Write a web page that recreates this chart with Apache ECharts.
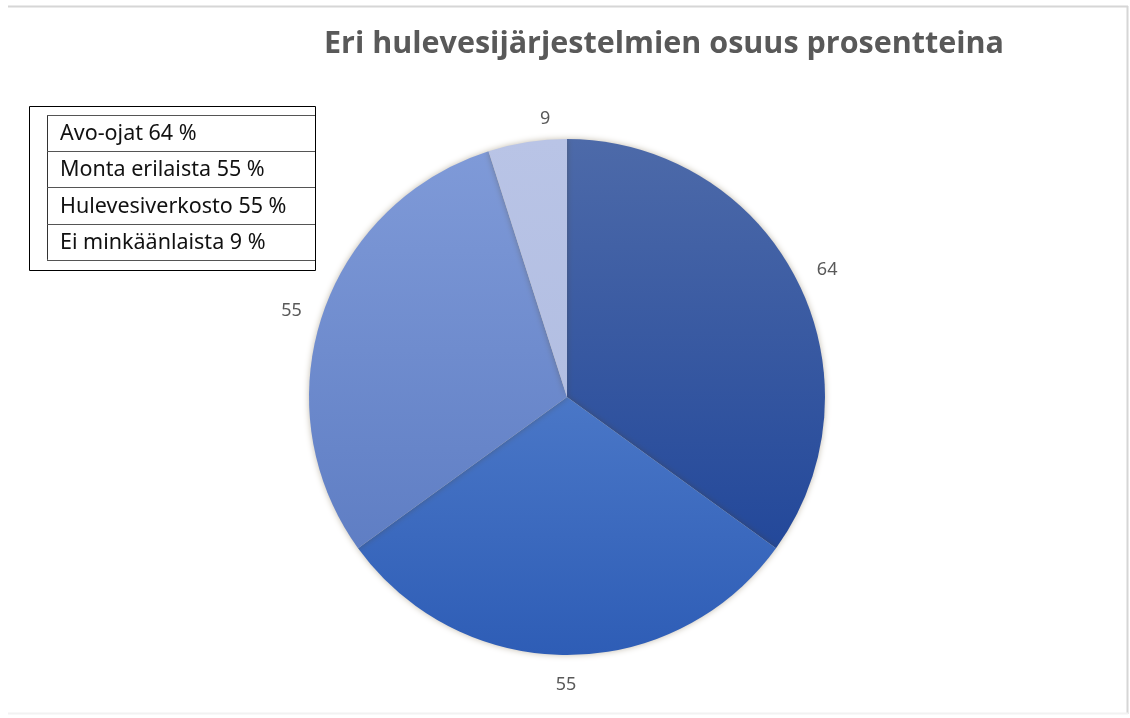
<!DOCTYPE html>
<html>
<head>
<meta charset="utf-8">
<script src="https://cdn.jsdelivr.net/npm/echarts@6/dist/echarts.min.js"></script>
<style>
html,body{margin:0;padding:0;background:#fff;}
#chart{width:1130px;height:718px;}
</style>
</head>
<body>
<div id="chart"></div>
<script>
const titleText = 'Eri hulevesijärjestelmien osuus prosentteina';
const categories = ['Avo-ojat', 'Monta erilaista', 'Hulevesiverkosto', 'Ei minkäänlaista'];
const values = [64, 55, 55, 9];
const legendValues = [64, 55, 55, 9];

const sliceColors = [
  ['#4d6aa9', '#23489a'],
  ['#4a77c7', '#2e5db6'],
  ['#7f9ad8', '#5f7ec4'],
  ['#b9c4e6', '#b2bee2']
];
const labelOffsets = [[1, 5], [-1, -3], [1, 5], [23, 9]];

const chart = echarts.init(document.getElementById('chart'), null, {renderer: 'canvas'});

const pieData = categories.map((c, i) => ({
  name: c,
  value: values[i],
  itemStyle: {
    color: new echarts.graphic.LinearGradient(0, 0, 0, 1, [
      {offset: 0, color: sliceColors[i][0]},
      {offset: 1, color: sliceColors[i][1]}
    ])
  }
}));

const labelData = categories.map((c, i) => ({
  name: c,
  value: values[i],
  label: {offset: labelOffsets[i]}
}));

// legend table
const legendX0 = 29, legendY0 = 106, legendX1 = 315, legendY1 = 270;
const innerX = 47, rowTop = 115, rowH = 36.2;
const legendGraphics = [
  {type: 'rect', shape: {x: legendX0 + 0.5, y: legendY0 + 0.5, width: legendX1 - legendX0, height: legendY1 - legendY0},
   style: {fill: '#fff', stroke: '#000', lineWidth: 1}, silent: true},
  {type: 'line', shape: {x1: innerX + 0.5, y1: rowTop, x2: innerX + 0.5, y2: rowTop + rowH * categories.length},
   style: {stroke: '#333', lineWidth: 1}, silent: true}
];
for (let i = 0; i <= categories.length; i++) {
  legendGraphics.push({type: 'line',
    shape: {x1: innerX, y1: Math.round(rowTop + rowH * i) + 0.5, x2: legendX1, y2: Math.round(rowTop + rowH * i) + 0.5},
    style: {stroke: '#555', lineWidth: 1.2}, silent: true});
}
categories.forEach((c, i) => {
  legendGraphics.push({type: 'text', x: 60, y: rowTop + rowH * i + rowH / 2 + 1,
    style: {text: c + ' ' + legendValues[i] + ' %', fill: '#111', font: '21.5px "Noto Sans"',
      textAlign: 'left', textVerticalAlign: 'middle'}, silent: true});
});

const option = {
  backgroundColor: '#fff',
  animation: false,
  title: {
    text: titleText,
    left: 659, top: 24, textAlign: 'center',
    textStyle: {fontFamily: '"Open Sans"', fontWeight: 'bold', fontSize: 30.5, color: '#595959'}
  },
  graphic: [
    {type: 'line', shape: {x1: 8, y1: 6.5, x2: 1128, y2: 6.5}, style: {stroke: '#d6d6d6', lineWidth: 2}, silent: true},
    {type: 'line', shape: {x1: 1127.5, y1: 6, x2: 1127.5, y2: 714}, style: {stroke: '#d6d6d6', lineWidth: 2}, silent: true},
    {type: 'line', shape: {x1: 8, y1: 713.5, x2: 1128, y2: 713.5}, style: {stroke: '#f2f2f2', lineWidth: 2}, silent: true}
  ].concat(legendGraphics),
  series: [
    {
      type: 'pie',
      center: [567, 397],
      radius: [0, 258],
      startAngle: 90,
      clockwise: true,
      silent: true,
      label: {show: false},
      labelLine: {show: false},
      itemStyle: {borderWidth: 0, shadowBlur: 6, shadowColor: 'rgba(80,60,20,0.35)'},
      data: pieData
    },
    {
      type: 'pie',
      center: [567, 397],
      radius: [278, 298],
      startAngle: 90,
      clockwise: true,
      silent: true,
      itemStyle: {color: 'rgba(0,0,0,0)'},
      label: {show: true, position: 'inside', formatter: '{c}', color: '#595959',
        fontSize: 18, fontFamily: '"Noto Sans"'},
      labelLine: {show: false},
      data: labelData
    }
  ]
};
chart.setOption(option);
</script>
</body>
</html>
